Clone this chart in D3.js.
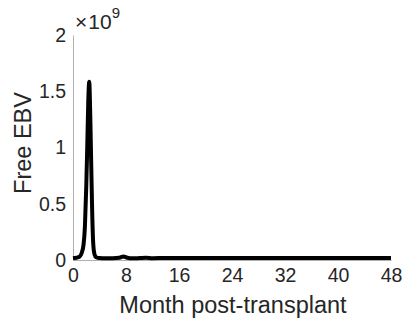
<!DOCTYPE html>
<html>
<head>
<meta charset="utf-8">
<script src="https://cdn.jsdelivr.net/npm/d3@7"></script>
<style>
  html, body { margin: 0; padding: 0; background: #fff; }
  svg { display: block; font-family: "Liberation Sans", Arial, sans-serif; }
</style>
</head>
<body>
<svg id="chart" width="406" height="327"></svg>
<script>
// Data (free EBV in units of 1e9, months post-transplant)
const months = [0, 0.5, 1.0, 1.3, 1.6, 1.8, 2.0, 2.15, 2.3, 2.45, 2.6, 2.75, 2.9, 3.05, 3.25, 3.5, 4.0, 5.0, 6.0, 7.0, 7.6, 8.2, 9.0, 10.0, 11.0, 12.0, 14.0, 16.0, 20.0, 24.0, 28.0, 32.0, 36.0, 40.0, 44.0, 48.0];
const freeEBV = [0.015, 0.02, 0.03, 0.06, 0.14, 0.3, 0.65, 1.0, 1.4, 1.585, 1.3, 0.85, 0.42, 0.15, 0.05, 0.025, 0.018, 0.016, 0.016, 0.02, 0.032, 0.02, 0.015, 0.017, 0.02, 0.016, 0.018, 0.017, 0.017, 0.017, 0.017, 0.017, 0.017, 0.017, 0.017, 0.017];
const xTicks = [0, 8, 16, 24, 32, 40, 48];
const yTicks = [0, 0.5, 1, 1.5, 2];
const yTickLabels = ["0", "0.5", "1", "1.5", "2"];

const svg = d3.select("#chart");
const margin = { left: 73, right: 15, top: 35, bottom: 67 };

const x = d3.scaleLinear().domain([0, 48]).range([margin.left, 391]);
const y = d3.scaleLinear().domain([0, 2]).range([260, margin.top]);

// x axis
const xAxis = svg.append("g")
  .attr("transform", `translate(0,${y(0)})`)
  .call(d3.axisBottom(x).tickValues(xTicks).tickSize(0).tickPadding(8).tickFormat(d3.format("d")));
xAxis.select(".domain").attr("stroke", "#b0b0b0").attr("stroke-width", 1);
xAxis.selectAll("text").attr("font-size", "19.5px").attr("fill", "#262626")
  .attr("font-family", "Liberation Sans, Arial, sans-serif");

// y axis
const yAxis = svg.append("g")
  .attr("transform", `translate(${x(0)},0)`)
  .call(d3.axisLeft(y).tickValues(yTicks).tickSize(0).tickPadding(7)
    .tickFormat((d, i) => yTickLabels[i]));
yAxis.select(".domain").attr("stroke", "#b0b0b0").attr("stroke-width", 1);
yAxis.selectAll("text").attr("font-size", "19.5px").attr("fill", "#262626")
  .attr("font-family", "Liberation Sans, Arial, sans-serif");

// line
const line = d3.line()
  .x((d, i) => x(months[i]))
  .y(d => y(d))
  .curve(d3.curveMonotoneX);

svg.append("path")
  .datum(freeEBV)
  .attr("d", line)
  .attr("fill", "none")
  .attr("stroke", "#000")
  .attr("stroke-width", 4)
  .attr("stroke-linejoin", "round");

// exponent label
const exp = svg.append("text")
  .attr("x", 75).attr("y", 29)
  .attr("fill", "#262626")
  .attr("font-family", "Liberation Sans, Arial, sans-serif");
exp.append("tspan").attr("font-size", "21px").text("\u00d7");
exp.append("tspan").attr("font-size", "21px").attr("dx", 1).text("10");
exp.append("tspan").attr("font-size", "15px").attr("dy", -11).text("9");

// axis labels
svg.append("text")
  .attr("x", 233).attr("y", 313)
  .attr("text-anchor", "middle")
  .attr("font-size", "23.5px")
  .attr("fill", "#262626")
  .text("Month post-transplant");

svg.append("text")
  .attr("transform", "translate(31,143) rotate(-90)")
  .attr("text-anchor", "middle")
  .attr("font-size", "23.5px")
  .attr("fill", "#262626")
  .text("Free EBV");
</script>
</body>
</html>
